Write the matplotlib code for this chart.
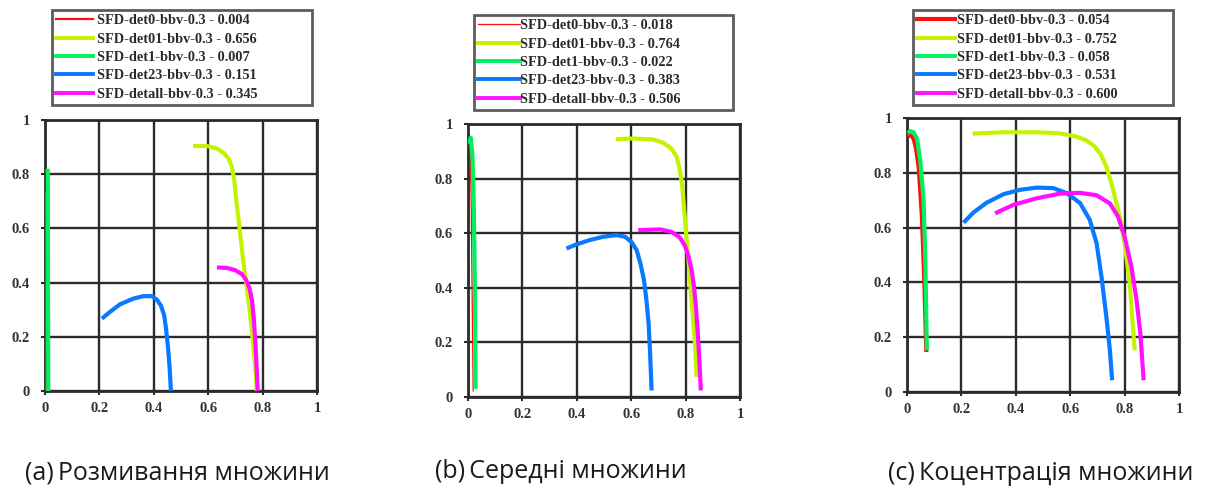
import matplotlib
matplotlib.use("Agg")
import matplotlib.pyplot as plt
from matplotlib.lines import Line2D

# ---- series names and colours ----
series = ["SFD-det0-bbv-0.3", "SFD-det01-bbv-0.3", "SFD-det1-bbv-0.3",
          "SFD-det23-bbv-0.3", "SFD-detall-bbv-0.3"]
colors = ["#ff1010", "#c2f400", "#00f060", "#0a78ff", "#ff10ff"]

# ---- panel (a): Розмивання множини ----
a_scores = [0.004, 0.656, 0.007, 0.151, 0.345]
a_det0_x = [0.003, 0.003, 0.003]
a_det0_y = [0.735, 0.40, 0.0]
a_det01_x = [0.544, 0.595, 0.632, 0.656, 0.675, 0.687, 0.696, 0.703, 0.712, 0.720,
             0.730, 0.740, 0.752, 0.764, 0.773, 0.779]
a_det01_y = [0.904, 0.904, 0.895, 0.879, 0.858, 0.828, 0.778, 0.704, 0.630, 0.557,
             0.470, 0.397, 0.298, 0.188, 0.089, 0.0]
a_det1_x = [0.010, 0.011, 0.012]
a_det1_y = [0.820, 0.40, 0.0]
a_det23_x = [0.209, 0.239, 0.276, 0.325, 0.362, 0.393, 0.411, 0.426, 0.438, 0.445,
             0.452, 0.458, 0.463]
a_det23_y = [0.267, 0.292, 0.320, 0.341, 0.350, 0.350, 0.337, 0.316, 0.280, 0.230,
             0.163, 0.089, 0.0]
a_detall_x = [0.632, 0.669, 0.699, 0.724, 0.740, 0.752, 0.761, 0.767, 0.773, 0.778, 0.782]
a_detall_y = [0.456, 0.454, 0.446, 0.431, 0.409, 0.378, 0.335, 0.273, 0.187, 0.089, 0.0]

# ---- panel (b): Середні множини ----
b_scores = [0.018, 0.764, 0.022, 0.383, 0.506]
b_det0_x = [0.004, 0.008, 0.012, 0.016, 0.019]
b_det0_y = [0.920, 0.900, 0.700, 0.300, 0.020]
b_det01_x = [0.544, 0.607, 0.681, 0.718, 0.748, 0.767, 0.779, 0.788, 0.794, 0.801,
             0.810, 0.818, 0.828, 0.836, 0.840]
b_det01_y = [0.944, 0.947, 0.943, 0.931, 0.910, 0.880, 0.831, 0.770, 0.697, 0.611,
             0.513, 0.403, 0.281, 0.171, 0.073]
b_det1_x = [0.006, 0.010, 0.016, 0.021, 0.026, 0.028]
b_det1_y = [0.927, 0.950, 0.890, 0.720, 0.355, 0.030]
b_det23_x = [0.362, 0.399, 0.448, 0.497, 0.546, 0.577, 0.601, 0.620, 0.634, 0.647,
             0.656, 0.664, 0.669, 0.672, 0.675]
b_det23_y = [0.544, 0.559, 0.575, 0.587, 0.593, 0.587, 0.568, 0.538, 0.489, 0.428,
             0.355, 0.269, 0.171, 0.098, 0.024]
b_detall_x = [0.626, 0.706, 0.748, 0.779, 0.798, 0.811, 0.822, 0.831, 0.838, 0.844,
              0.850, 0.856]
b_detall_y = [0.611, 0.614, 0.605, 0.584, 0.553, 0.513, 0.465, 0.403, 0.330, 0.244,
              0.147, 0.024]

# ---- panel (c): Коцентрація множини ----
c_scores = [0.054, 0.752, 0.058, 0.531, 0.600]
c_det0_x = [0.002, 0.014, 0.024, 0.033, 0.043, 0.055, 0.064, 0.071]
c_det0_y = [0.933, 0.937, 0.925, 0.890, 0.820, 0.637, 0.396, 0.146]
c_det01_x = [0.242, 0.355, 0.477, 0.560, 0.620, 0.660, 0.688, 0.712, 0.733, 0.758,
             0.782, 0.800, 0.819, 0.837]
c_det01_y = [0.943, 0.948, 0.948, 0.944, 0.933, 0.918, 0.898, 0.868, 0.823, 0.738,
             0.640, 0.543, 0.396, 0.152]
c_det1_x = [0.002, 0.012, 0.024, 0.037, 0.049, 0.061, 0.068, 0.073]
c_det1_y = [0.945, 0.952, 0.948, 0.925, 0.844, 0.700, 0.457, 0.152]
c_det23_x = [0.208, 0.244, 0.293, 0.355, 0.416, 0.477, 0.538, 0.587, 0.636, 0.672,
             0.697, 0.715, 0.733, 0.746, 0.754]
c_det23_y = [0.618, 0.655, 0.691, 0.722, 0.738, 0.746, 0.744, 0.726, 0.690, 0.628,
             0.543, 0.421, 0.274, 0.152, 0.043]
c_detall_x = [0.324, 0.391, 0.477, 0.562, 0.636, 0.697, 0.746, 0.776, 0.800, 0.825,
              0.844, 0.858, 0.870]
c_detall_y = [0.652, 0.683, 0.707, 0.724, 0.727, 0.718, 0.688, 0.640, 0.567, 0.457,
              0.335, 0.213, 0.043]

ticks = [0, 0.2, 0.4, 0.6, 0.8, 1]
tick_labels = ["0", "0.2", "0.4", "0.6", "0.8", "1"]
captions = ["(a)\u2009Розмивання множини", "(b)\u2009Середні множини",
            "(c)\u2009Коцентрація множини"]

panels = [
    dict(scores=a_scores,
         curves=[(a_det0_x, a_det0_y), (a_det01_x, a_det01_y), (a_det1_x, a_det1_y),
                 (a_det23_x, a_det23_y), (a_detall_x, a_detall_y)],
         red_lw=1.6, handlelength=2.6, handletextpad=0.28),
    dict(scores=b_scores,
         curves=[(b_det0_x, b_det0_y), (b_det01_x, b_det01_y), (b_det1_x, b_det1_y),
                 (b_det23_x, b_det23_y), (b_detall_x, b_detall_y)],
         red_lw=0.9, handlelength=2.95, handletextpad=0.0),
    dict(scores=c_scores,
         curves=[(c_det0_x, c_det0_y), (c_det01_x, c_det01_y), (c_det1_x, c_det1_y),
                 (c_det23_x, c_det23_y), (c_detall_x, c_detall_y)],
         red_lw=3.0, handlelength=2.65, handletextpad=0.12),
]

W, H = 1209, 488
fig = plt.figure(figsize=(W / 100, H / 100), dpi=100)

# pixel boxes: axes (left, top, right, bottom), legend (left, top, right, bottom)
axes_px = [(45, 120, 317, 391), (468, 124, 740, 397), (907, 118, 1179, 392)]
legend_px = [(52, 10, 312, 106), (474, 15, 733, 110), (913, 10, 1173, 105)]
caption_px = [(25, 473), (435, 472), (888, 473)]

grid_color = "#2b2b2b"
serif = ["Liberation Serif", "DejaVu Serif"]

for p, (l, t, r, b), (ll, lt, lr, lb), (cx, cy), cap in zip(
        panels, axes_px, legend_px, caption_px, captions):
    ax = fig.add_axes([l / W, 1 - b / H, (r - l) / W, (b - t) / H])
    handles = []
    for i, (xs, ys) in enumerate(p["curves"]):
        lw = p["red_lw"] if i == 0 else 3.0
        ax.plot(xs, ys, color=colors[i], lw=lw, solid_capstyle="butt",
                solid_joinstyle="round", zorder=3)
        handles.append(Line2D([], [], color=colors[i],
                              lw=(p["red_lw"] if i == 0 else 2.8)))
    ax.set_xlim(0, 1)
    ax.set_ylim(0, 1)
    ax.set_xticks(ticks)
    ax.set_yticks(ticks)
    ax.set_xticklabels(tick_labels)
    ax.set_yticklabels(tick_labels)
    ax.grid(True, color=grid_color, lw=1.7, zorder=1)
    ax.set_axisbelow(True)
    for s in ax.spines.values():
        s.set_color(grid_color)
        s.set_linewidth(2.0)
    ax.tick_params(direction="out", length=3, width=1.5, color=grid_color,
                   labelsize=10.5, labelcolor="#333333")
    ax.tick_params(axis="x", pad=5)
    ax.tick_params(axis="y", pad=8)
    for lab in ax.get_xticklabels() + ax.get_yticklabels():
        lab.set_fontfamily(serif)
        lab.set_fontweight("bold")

    labels = [f"{n} - {s:.3f}" for n, s in zip(series, p["scores"])]
    leg = fig.legend(handles, labels, loc="upper left",
                     bbox_to_anchor=(ll / W, 1 - lb / H, (lr - ll) / W, (lb - lt) / H),
                     mode="expand", borderaxespad=0, fancybox=False,
                     prop=dict(family=serif, weight="bold", size=10.3),
                     handlelength=p["handlelength"],
                     handletextpad=p["handletextpad"],
                     labelspacing=0.37, borderpad=0.3, frameon=True)
    leg.get_frame().set_edgecolor("#333333")
    leg.get_frame().set_linewidth(2.0)
    for txt in leg.get_texts():
        txt.set_color("#2a2a2a")

    fig.text(cx / W, 1 - cy / H, cap, ha="left", va="center",
             fontsize=18, family=["Open Sans", "DejaVu Sans"], color="#1a1a1a")

fig.savefig("out.png", dpi=100)
